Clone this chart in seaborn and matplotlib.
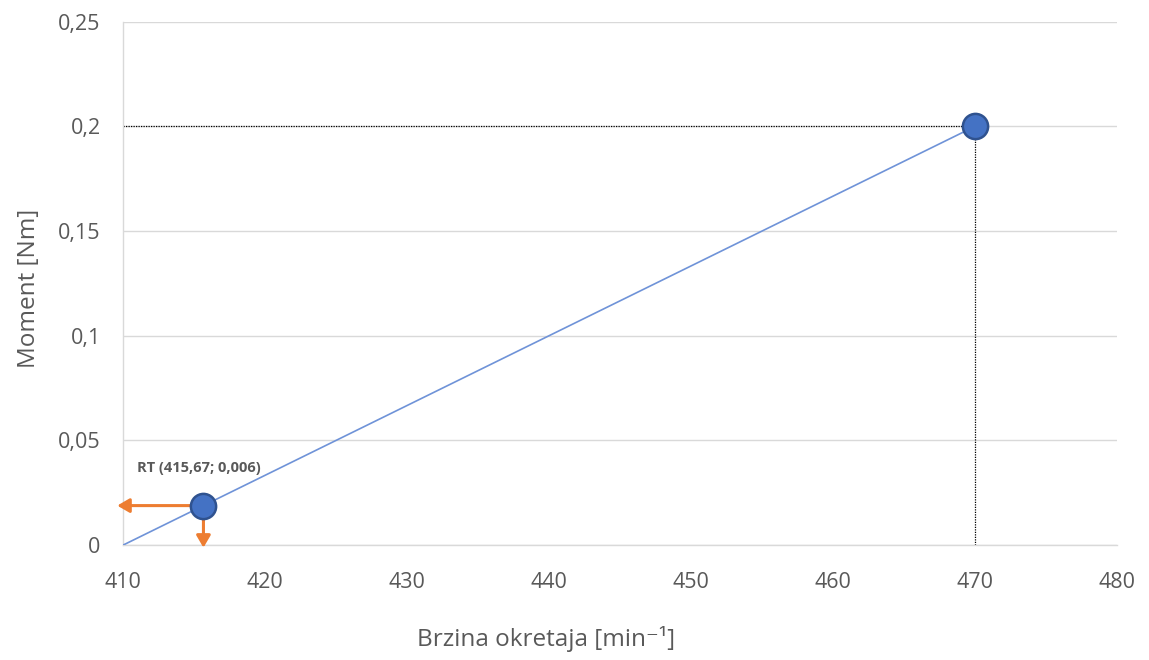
import numpy as np
import pandas as pd
import seaborn as sns
import matplotlib.pyplot as plt

# data
brzina = [410, 415.67, 470]
moment = [0, 0.0189, 0.2]
rt_x, rt_y = 415.67, 0.0189
x_ticks = [410, 420, 430, 440, 450, 460, 470, 480]
y_ticks = [0, 0.05, 0.1, 0.15, 0.2, 0.25]
y_labels = ["0", "0,05", "0,1", "0,15", "0,2", "0,25"]

sns.set_theme(style="white")
plt.rcParams['font.family'] = ['Open Sans', 'DejaVu Sans']

df = pd.DataFrame({"x": brzina, "y": moment})

fig = plt.figure(figsize=(11.49, 6.6), dpi=100)
ax = fig.add_axes([0.107, 0.174, 0.865, 0.793])

sns.lineplot(data=df, x="x", y="y", ax=ax, color="#6f93d8", linewidth=1.2, zorder=3)

# dotted guide lines to the rated point
ax.plot([410, 470], [0.2, 0.2], color="black", linestyle=(0, (1, 1)), linewidth=0.9, zorder=2)
ax.plot([470, 470], [0, 0.2], color="black", linestyle=(0, (1, 1)), linewidth=0.9, zorder=2)

sns.scatterplot(data=df.iloc[1:], x="x", y="y", ax=ax, s=330, color="#4472C4",
                edgecolor="#2F528F", linewidth=1.8, zorder=5, clip_on=False)

# orange arrows from RT point
arrow = dict(arrowstyle="-|>,head_length=0.6,head_width=0.35", color="#ED7D31", lw=2.2,
             shrinkA=0, shrinkB=0)
ax.annotate("", xy=(409.6, rt_y), xytext=(rt_x, rt_y), arrowprops=arrow,
            annotation_clip=False, zorder=4)
ax.annotate("", xy=(rt_x, -0.0012), xytext=(rt_x, rt_y), arrowprops=arrow,
            annotation_clip=False, zorder=4)
ax.text(411.0, 0.037, "RT (415,67; 0,006)", fontsize=10.5, fontweight="bold",
        color="#595959", ha="left", va="center")

ax.set_xlim(410, 480)
ax.set_ylim(0, 0.25)
ax.set_xticks(x_ticks)
ax.set_xticklabels([str(v) for v in x_ticks])
ax.set_yticks(y_ticks)
ax.set_yticklabels(y_labels)
ax.tick_params(axis="both", labelsize=15.5, colors="#595959", length=0)
ax.tick_params(axis="x", pad=19)
ax.tick_params(axis="y", pad=16)
ax.grid(axis="y", color="#d9d9d9", linewidth=1)
ax.grid(axis="x", visible=False)
for side in ["top", "right"]:
    ax.spines[side].set_visible(False)
for side in ["left", "bottom"]:
    ax.spines[side].set_color("#d9d9d9")
    ax.spines[side].set_linewidth(1)

ax.set_xlabel("Brzina okretaja [min⁻¹]", fontsize=17.5, color="#595959")
ax.set_ylabel("Moment [Nm]", fontsize=17.5, color="#595959")
ax.xaxis.set_label_coords(0.426, -0.155)
ax.yaxis.set_label_coords(-0.082, 0.49)

fig.savefig("out.png", dpi=100)
